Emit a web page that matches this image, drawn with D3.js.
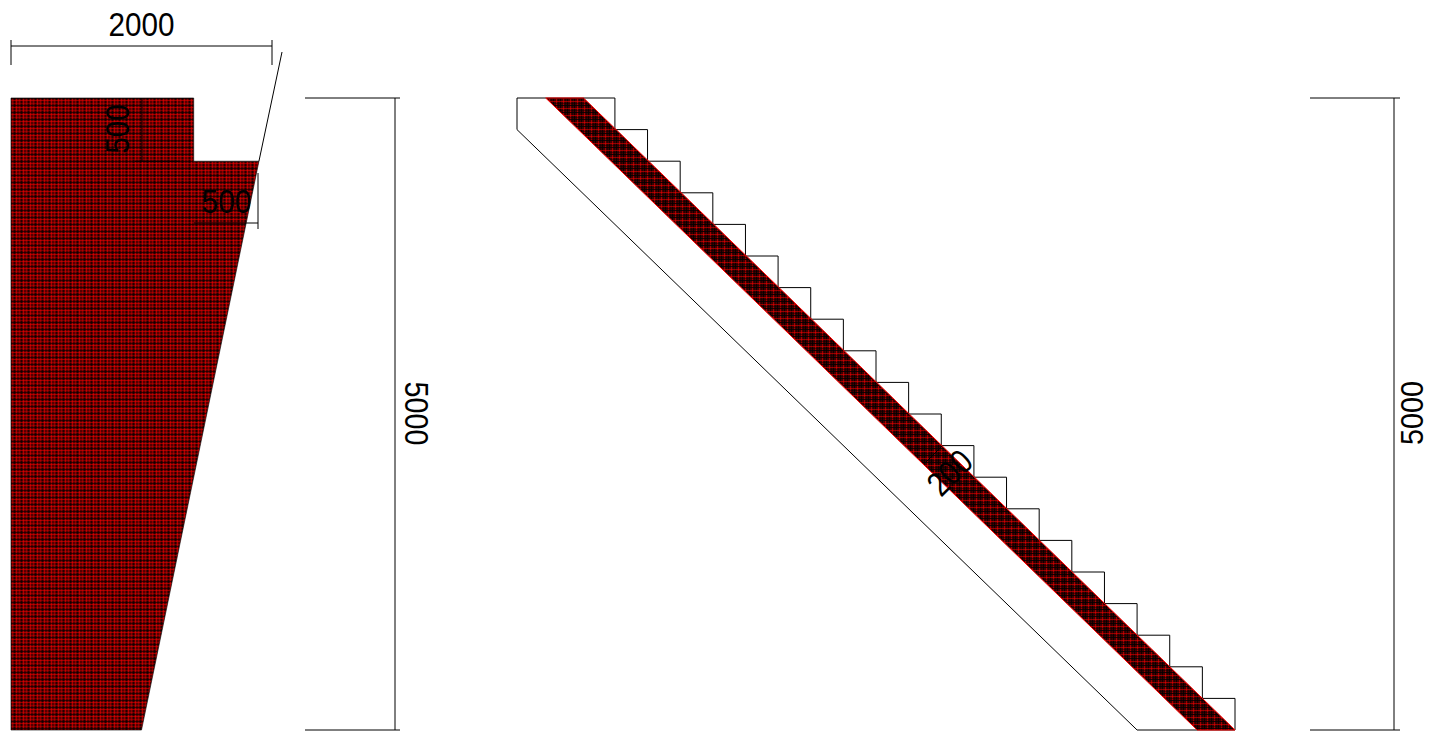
<!DOCTYPE html>
<html>
<head>
<meta charset="utf-8">
<script src="https://cdn.jsdelivr.net/npm/d3@7"></script>
<style>
  html, body { margin: 0; padding: 0; background: #fff; }
  svg { display: block; }
  text { font-family: "Liberation Sans", sans-serif; fill: #000; }
  .edge { fill: none; stroke: #000; stroke-width: 1; }
</style>
</head>
<body>
<div id="chart"></div>
<script>
// section outline, mm
var sectionOutline = [[0, 0], [1400, 0], [1400, 500], [1900, 500], [1000, 5000], [0, 5000]];
// stair, mm
var stepCount = 20;
var stepTread = 250;
var stepRise = 250;
var topLanding = 750;
var soffitDrop = 250;
var soffitEnd = 4750;
var slabTop = [220, 510];
var slabBottom = [5210, 5500];
var dimLabels = ["2000", "500", "500", "5000", "200", "5000"];

var width = 1430, height = 732;
var x = d3.scaleLinear().domain([0, 2000]).range([11, 272]);
var y = d3.scaleLinear().domain([0, 5000]).range([98, 730]);
var sx = d3.scaleLinear().domain([0, 5500]).range([517, 1235]);

var svg = d3.select("#chart").append("svg")
  .attr("width", width).attr("height", height);

// hatch of the cut concrete: plaid of red and black lines over dark red
var defs = svg.append("defs");
function makeHatch(id, size, base, lines){
  var p = defs.append("pattern").attr("id", id)
    .attr("patternUnits", "userSpaceOnUse")
    .attr("width", size).attr("height", size);
  p.append("rect").attr("width", size).attr("height", size).attr("fill", base);
  lines.forEach(function(d){
    p.append("rect").attr("x", d[0]).attr("width", 1).attr("height", size)
      .attr("fill", d[1]).attr("opacity", d[2]);
  });
  lines.forEach(function(d){
    p.append("rect").attr("y", d[0]).attr("width", size).attr("height", 1)
      .attr("fill", d[1]).attr("opacity", d[2]);
  });
}
makeHatch("hatch", 7, "#560000", [[0, "#000", 0.6], [2, "#f00", 0.5], [5, "#f00", 0.3]]);
makeHatch("hatchDark", 7, "#3e0000", [[0, "#000", 0.8], [3, "#f00", 0.5], [5, "#000", 0.4]]);

var line = d3.line();

function seg(x1, y1, x2, y2){
  svg.append("line").attr("class", "edge")
    .attr("x1", x1).attr("y1", y1).attr("x2", x2).attr("y2", y2);
}

function label(txt, cx, cy, angle, len, size){
  svg.append("text")
    .attr("transform", "translate(" + cx + "," + cy + ") rotate(" + angle + ")")
    .attr("text-anchor", "middle")
    .attr("dominant-baseline", "central")
    .attr("font-size", size || 34)
    .attr("textLength", len)
    .attr("lengthAdjust", "spacingAndGlyphs")
    .text(txt);
}

// Section
var sectionPts = sectionOutline.map(function(p){ return [x(p[0]), y(p[1])]; });
svg.append("path")
  .attr("d", line(sectionPts) + "Z")
  .attr("fill", "url(#hatch)").attr("stroke", "#000").attr("stroke-width", 0.6);

// slope line runs on past the section
seg(x(1900), y(500), 282, 52);

// 2000 dimension
seg(x(0), 46, x(2000), 46);
seg(x(0), 40, x(0), 65);
seg(x(2000), 40, x(2000), 65);
label(dimLabels[0], 141.5, 24, 0, 66);

// 500 dimensions
seg(142, y(0), 142, y(500));
seg(135, y(500), 180, y(500));
label(dimLabels[1], 117, 129, -90, 49);
seg(258, 173, 258, 229);
seg(194, 223, 258, 223);
label(dimLabels[2], 226.5, 201, 0, 50);

// 5000 dimension, left
seg(395, y(0), 395, y(5000));
seg(305, y(0), 400, y(0));
seg(305, y(5000), 400, y(5000));
label(dimLabels[3], 417, 413.5, 90, 64);

// Stair outline
var stairPts = [[sx(0), y(0)], [sx(topLanding), y(0)]];
d3.range(1, stepCount).forEach(function(i){
  var tx = sx(topLanding + (i - 1) * stepTread);
  var ty = y(i * stepRise);
  stairPts.push([tx, ty]);
  stairPts.push([sx(topLanding + i * stepTread), ty]);
});
stairPts.push([sx(topLanding + (stepCount - 1) * stepTread), y(5000)]);
stairPts.push([sx(soffitEnd), y(5000)]);
stairPts.push([sx(0), y(soffitDrop)]);
svg.append("path").attr("class", "edge").attr("d", line(stairPts) + "Z");

// Slab band
var slabPts = [
  [sx(slabTop[0]), y(0)], [sx(slabTop[1]), y(0)],
  [sx(slabBottom[1]), y(5000)], [sx(slabBottom[0]), y(5000)]
];
svg.append("path")
  .attr("d", line(slabPts) + "Z")
  .attr("fill", "url(#hatchDark)").attr("stroke", "#ff0000").attr("stroke-width", 1);

// 200 dimension
seg(925, 463, 942, 446);
label(dimLabels[4], 949.5, 472.5, -45, 48);

// 5000 dimension, right
seg(1394, y(0), 1394, y(5000));
seg(1310, y(0), 1400, y(0));
seg(1310, y(5000), 1400, y(5000));
label(dimLabels[5], 1411.5, 413, -90, 64, 32);
</script>
</body>
</html>
